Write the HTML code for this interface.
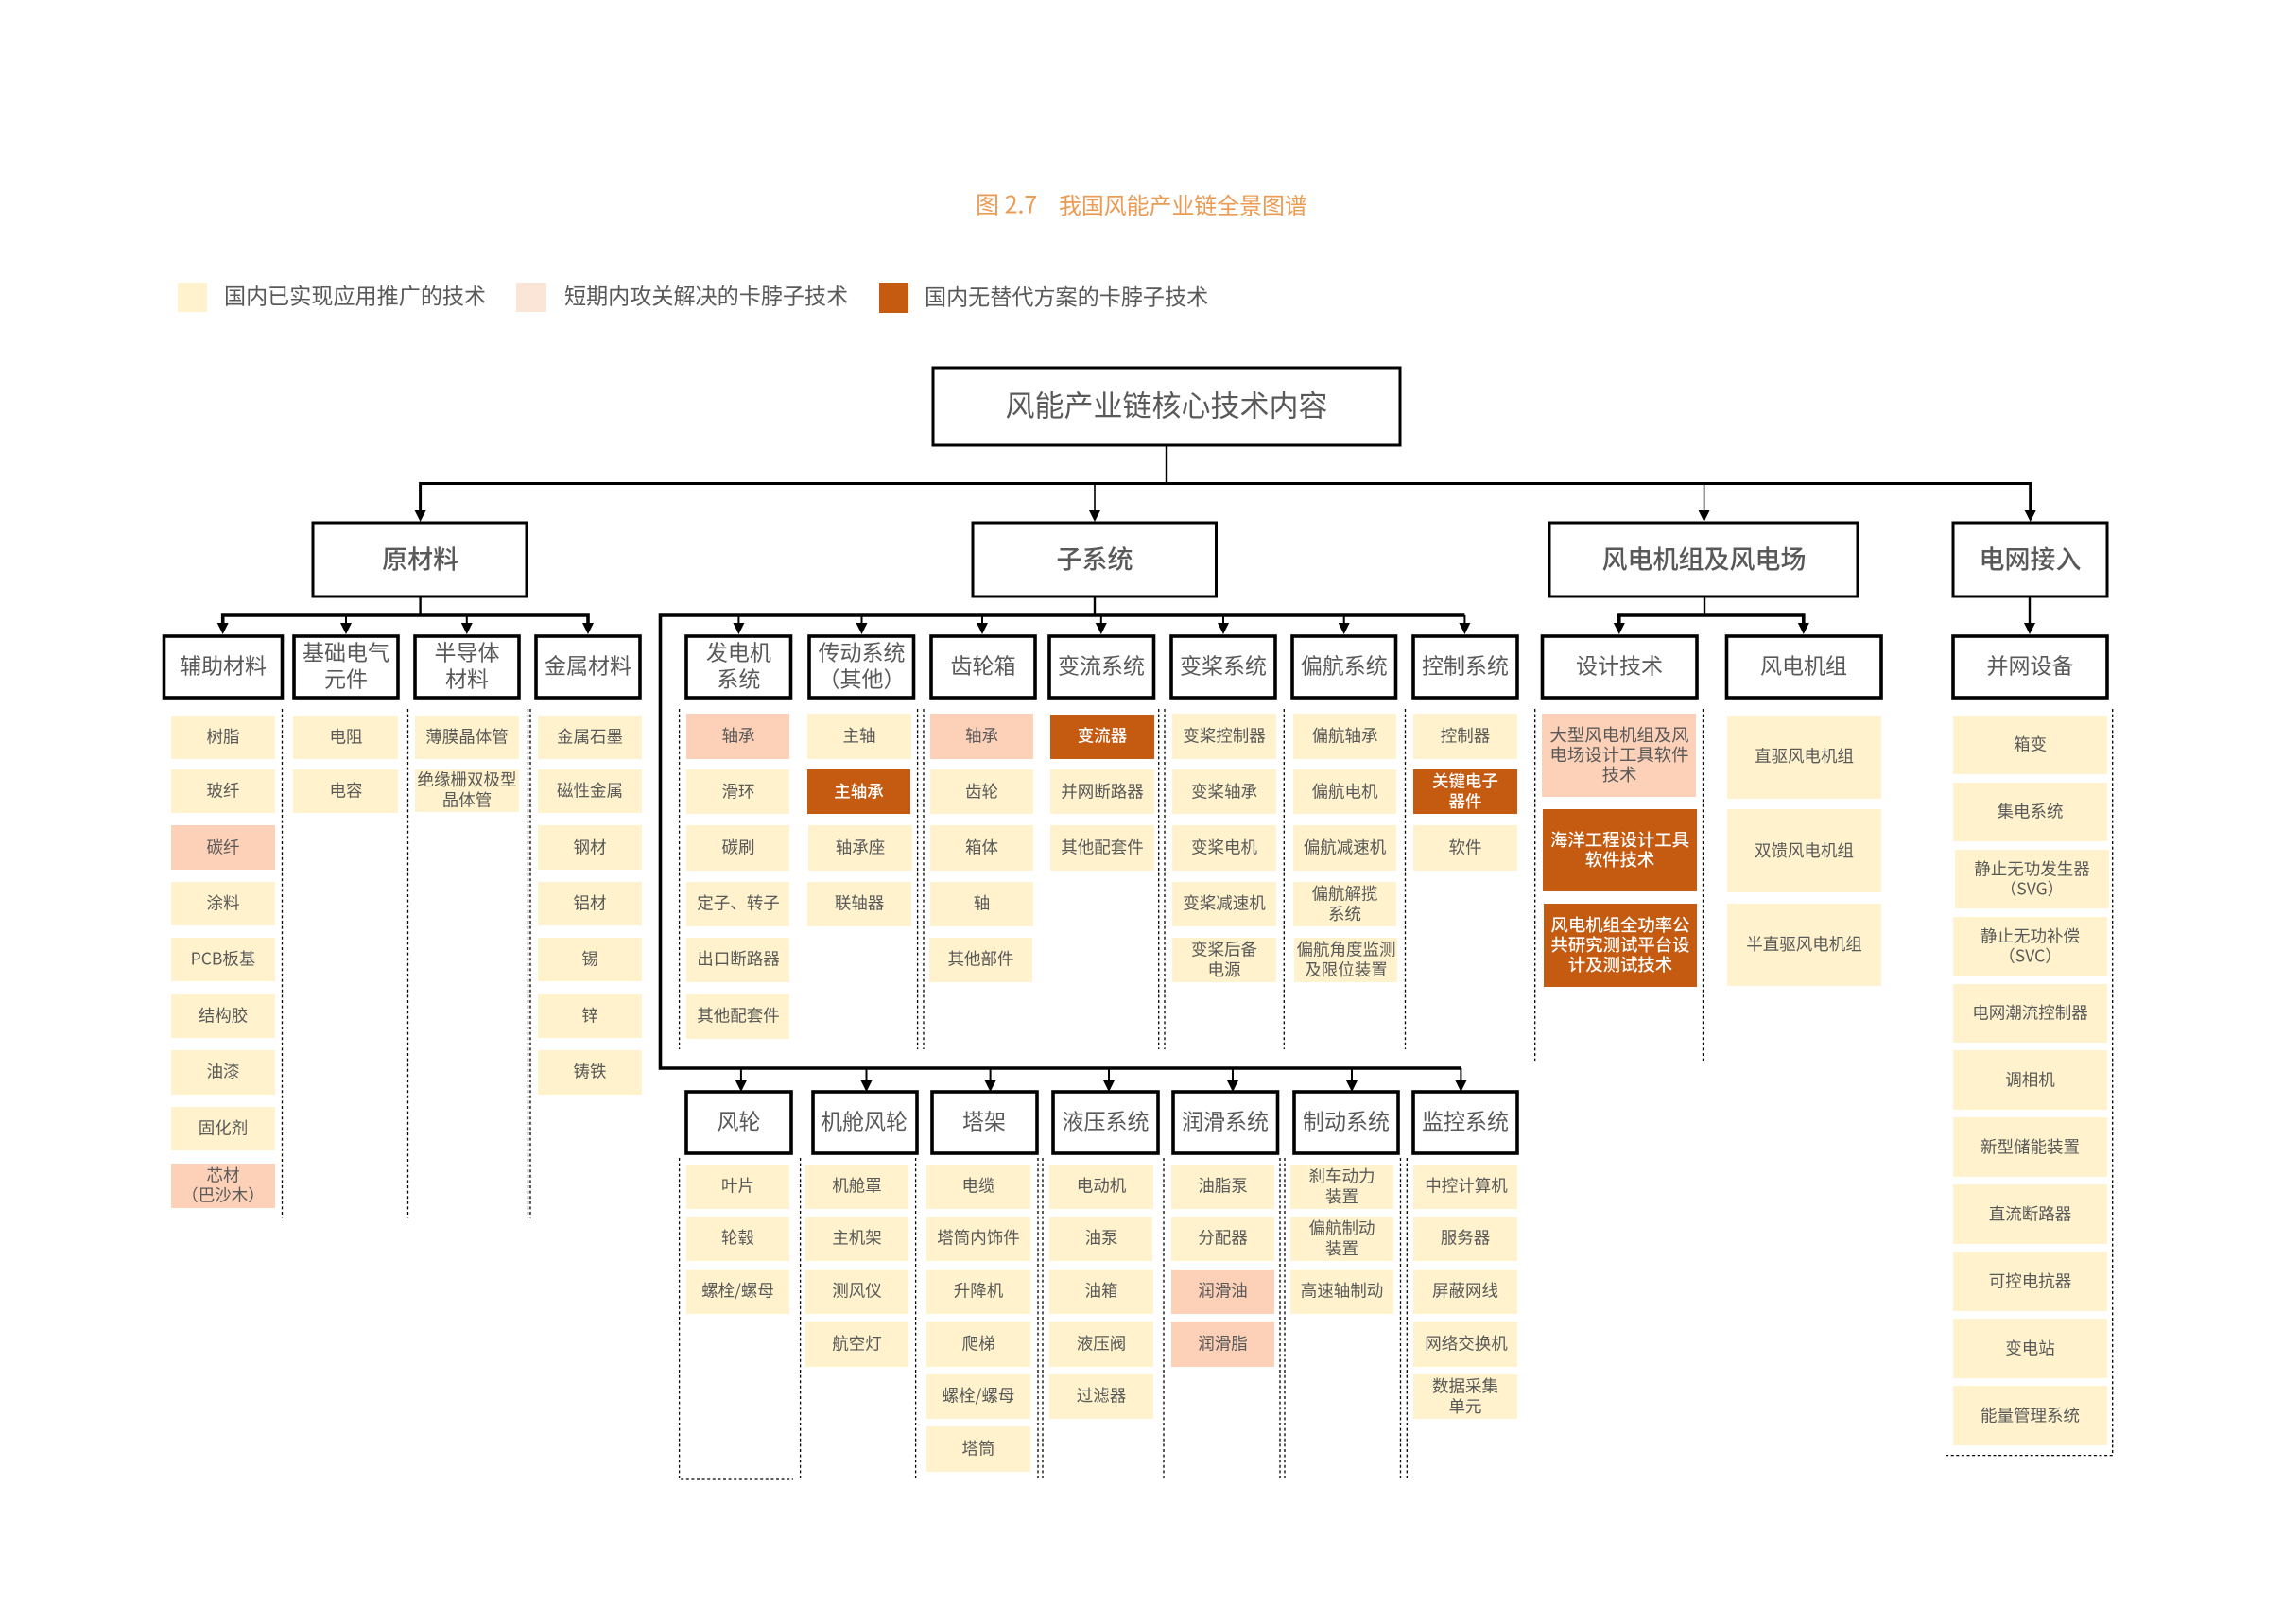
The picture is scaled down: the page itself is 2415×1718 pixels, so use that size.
<!DOCTYPE html>
<html lang="zh"><head><meta charset="utf-8"><title>我国风能产业链全景图谱</title>
<style>
html,body{margin:0;padding:0;background:#fff}
svg{display:block}
text{font-family:"Liberation Sans","Noto Sans CJK SC",sans-serif;fill:#595959;text-anchor:middle;dominant-baseline:central}
.cjk{font-family:"Noto Sans CJK SC",sans-serif}
.c{fill:#FFF2CC}.p{fill:#FDD1B8}.d{fill:#C55A11}
.b1{fill:#fff;stroke:#000;stroke-width:3}
.b2{fill:#fff;stroke:#000;stroke-width:3.6}
.l1{font-size:27px;font-weight:500;font-family:"Noto Sans CJK SC",sans-serif;transform:translateY(-2px)}
.l2{font-size:23px;font-family:"Noto Sans CJK SC",sans-serif;transform:translateY(-1.5px)}
.t{font-size:17.5px;font-family:"Noto Sans CJK SC",sans-serif}
.w{font-size:17.5px;font-weight:500;font-family:"Noto Sans CJK SC",sans-serif;fill:#fff}
.big{font-size:18.4px}
.lg{font-size:23.1px;font-family:"Noto Sans CJK SC",sans-serif;text-anchor:start;transform:translateY(-1.5px)}
.ln{stroke:#000;fill:none}
.dash{stroke:#000;stroke-width:1.3;stroke-dasharray:3 2.6;fill:none}
</style></head><body>
<svg xmlns="http://www.w3.org/2000/svg" width="2415" height="1718" viewBox="0 0 2415 1718">
<rect width="2415" height="1718" fill="#fff"/>

<!-- title -->
<text class="cjk" x="1032" y="215.5" style="font-size:25px;fill:#ED9A52;text-anchor:start">图 2.7</text>
<text class="cjk" x="1120" y="215.5" style="font-size:23.9px;fill:#ED9A52;text-anchor:start">我国风能产业链全景图谱</text>

<!-- legend -->
<rect x="188" y="299" width="31" height="31" fill="#FFF2CC"/>
<text class="lg" x="237" y="313">国内已实现应用推广的技术</text>
<rect x="546" y="299" width="32" height="31" fill="#FBE5D6"/>
<text class="lg" x="597" y="313">短期内攻关解决的卡脖子技术</text>
<rect x="930" y="299" width="31" height="32" fill="#C55A11"/>
<text class="lg" x="978" y="314">国内无替代方案的卡脖子技术</text>

<!-- connectors -->
<g class="ln">
<path stroke-width="2.4" d="M1234 471V512"/>
<path stroke-width="3" d="M444.6 541V511.5H2147.7V541"/>
<path stroke-width="1.6" d="M1158 512V541M1802.6 512V541"/>
<path stroke-width="2.4" d="M444.6 631V651M1158 631V651M1803 631V651M2147 631V661"/>
<path stroke-width="3.6" d="M235.7 661V651H622V661"/>
<path stroke-width="2" d="M366 651V661M493.8 651V661"/>
<path stroke-width="3.6" d="M1549.4 651H698.5V1130H1545.4"/>
<path stroke-width="2" d="M781.4 651V661M911.5 651V661M1039 651V661M1164.8 651V661M1294 651V661M1421.7 651V661M1549.4 651V661"/>
<path stroke-width="3.6" d="M1712.8 661V651H1907.8V661"/>
<path stroke-width="2" d="M783.9 1130V1143M916.5 1130V1143M1047.6 1130V1143M1173 1130V1143M1304 1130V1143M1430 1130V1143M1545.4 1130V1143"/>
</g>

<!-- arrowheads -->
<g fill="#000">
<polygon points="438.6,540 450.6,540 444.6,552"/>
<polygon points="1152,540 1164,540 1158,552"/>
<polygon points="1796.6,540 1808.6,540 1802.6,552"/>
<polygon points="2141.7,540 2153.7,540 2147.7,552"/>
<polygon points="229.7,659 241.7,659 235.7,671"/>
<polygon points="360,659 372,659 366,671"/>
<polygon points="487.8,659 499.8,659 493.8,671"/>
<polygon points="616,659 628,659 622,671"/>
<polygon points="775.4,659 787.4,659 781.4,671"/>
<polygon points="905.5,659 917.5,659 911.5,671"/>
<polygon points="1033,659 1045,659 1039,671"/>
<polygon points="1158.8,659 1170.8,659 1164.8,671"/>
<polygon points="1288,659 1300,659 1294,671"/>
<polygon points="1415.7,659 1427.7,659 1421.7,671"/>
<polygon points="1543.4,659 1555.4,659 1549.4,671"/>
<polygon points="1706.8,659 1718.8,659 1712.8,671"/>
<polygon points="1901.8,659 1913.8,659 1907.8,671"/>
<polygon points="2141,659 2153,659 2147,671"/>
<polygon points="777.9,1143 789.9,1143 783.9,1155"/>
<polygon points="910.5,1143 922.5,1143 916.5,1155"/>
<polygon points="1041.6,1143 1053.6,1143 1047.6,1155"/>
<polygon points="1167,1143 1179,1143 1173,1155"/>
<polygon points="1298,1143 1310,1143 1304,1155"/>
<polygon points="1424,1143 1436,1143 1430,1155"/>
<polygon points="1539.4,1143 1551.4,1143 1545.4,1155"/>
</g>

<!-- dashed separators -->
<g class="dash">
<path d="M298.5 750V1289M431.5 750V1289M558.5 750V1289M561 750V1289M718.6 750V1110"/>
<path d="M970.6 750V1110M977 750V1110M1225.7 750V1110M1232 750V1110M1358.3 750V1110M1486.5 750V1110"/>
<path d="M1623.7 750V1122M1801.5 750V1122"/>
<path d="M2234.7 750V1539.6H2059"/>
<path d="M718.6 1225V1565H839M846.6 1225V1564M968.6 1225V1564M1098 1225V1564M1103 1225V1564M1231 1225V1564M1354 1225V1564M1359 1225V1564M1481.5 1225V1564M1488.3 1225V1564"/>
</g>

<!-- top boxes -->
<rect class="b1" x="987" y="389" width="494" height="82"/>
<text class="cjk" x="1234" y="427" style="font-size:31px">风能产业链核心技术内容</text>
<rect class="b1" x="331" y="553" width="226" height="78"/>
<text class="l1" x="444.6" y="592">原材料</text>
<rect class="b1" x="1029" y="553" width="257.5" height="78"/>
<text class="l1" x="1158" y="592">子系统</text>
<rect class="b1" x="1639" y="553" width="326" height="78"/>
<text class="l1" x="1802.5" y="592">风电机组及风电场</text>
<rect class="b1" x="2066" y="553" width="163" height="78"/>
<text class="l1" x="2147.5" y="592">电网接入</text>

<!-- level 2 upper -->
<rect class="b2" x="173.5" y="673" width="125" height="65"/><text class="l2" x="236" y="704">辅助材料</text>
<rect class="b2" x="311" y="673" width="110" height="65"/><text class="l2" x="366" y="690">基础电气</text><text class="l2" x="366" y="718">元件</text>
<rect class="b2" x="439" y="673" width="110" height="65"/><text class="l2" x="494" y="690">半导体</text><text class="l2" x="494" y="718">材料</text>
<rect class="b2" x="567" y="673" width="110" height="65"/><text class="l2" x="622" y="704">金属材料</text>
<rect class="b2" x="726" y="673" width="110.5" height="65"/><text class="l2" x="781.4" y="690">发电机</text><text class="l2" x="781.4" y="718">系统</text>
<rect class="b2" x="856" y="673" width="110.5" height="65"/><text class="l2" x="911.5" y="690">传动系统</text><text class="l2" x="911.5" y="718">（其他）</text>
<rect class="b2" x="985" y="673" width="110" height="65"/><text class="l2" x="1040" y="704">齿轮箱</text>
<rect class="b2" x="1110" y="673" width="110.5" height="65"/><text class="l2" x="1165" y="704">变流系统</text>
<rect class="b2" x="1239" y="673" width="110" height="65"/><text class="l2" x="1294" y="704">变桨系统</text>
<rect class="b2" x="1367" y="673" width="109.5" height="65"/><text class="l2" x="1421.7" y="704">偏航系统</text>
<rect class="b2" x="1495" y="673" width="110" height="65"/><text class="l2" x="1550" y="704">控制系统</text>
<rect class="b2" x="1631.5" y="673" width="163.5" height="65"/><text class="l2" x="1713" y="704">设计技术</text>
<rect class="b2" x="1826.5" y="673" width="163.5" height="65"/><text class="l2" x="1908" y="704">风电机组</text>
<rect class="b2" x="2066" y="673" width="163" height="65"/><text class="l2" x="2147.5" y="704">并网设备</text>

<!-- level 2 lower -->
<rect class="b2" x="726" y="1155" width="111" height="65"/><text class="l2" x="781.5" y="1186">风轮</text>
<rect class="b2" x="860" y="1155" width="110" height="65"/><text class="l2" x="914" y="1186">机舱风轮</text>
<rect class="b2" x="986" y="1155" width="111" height="65"/><text class="l2" x="1041" y="1186">塔架</text>
<rect class="b2" x="1114" y="1155" width="111" height="65"/><text class="l2" x="1169.5" y="1186">液压系统</text>
<rect class="b2" x="1241" y="1155" width="110.5" height="65"/><text class="l2" x="1296" y="1186">润滑系统</text>
<rect class="b2" x="1369" y="1155" width="110" height="65"/><text class="l2" x="1424" y="1186">制动系统</text>
<rect class="b2" x="1495" y="1155" width="110" height="65"/><text class="l2" x="1550" y="1186">监控系统</text>

<!-- 辅助材料 -->
<rect class="c" x="181" y="757" width="110" height="46"/><text class="t" x="236" y="779">树脂</text>
<rect class="c" x="181" y="814" width="110" height="46"/><text class="t" x="236" y="836">玻纤</text>
<rect class="p" x="181" y="873" width="110" height="47"/><text class="t" x="236" y="896">碳纤</text>
<rect class="c" x="181" y="933" width="110" height="46"/><text class="t" x="236" y="955">涂料</text>
<rect class="c" x="181" y="992" width="110" height="46"/><text class="t" x="236" y="1014">PCB板基</text>
<rect class="c" x="181" y="1052" width="110" height="46"/><text class="t" x="236" y="1074">结构胶</text>
<rect class="c" x="181" y="1111" width="110" height="47"/><text class="t" x="236" y="1133">油漆</text>
<rect class="c" x="181" y="1171" width="110" height="46"/><text class="t" x="236" y="1193">固化剂</text>
<rect class="p" x="181" y="1231" width="110" height="47"/><text class="t" x="236" y="1243">芯材</text><text class="t" x="236" y="1264">（巴沙木）</text>
<!-- 基础电气 -->
<rect class="c" x="310" y="757" width="111" height="46"/><text class="t" x="366" y="779">电阻</text>
<rect class="c" x="310" y="814" width="111" height="46"/><text class="t" x="366" y="836">电容</text>
<!-- 半导体 -->
<rect class="c" x="439" y="757" width="110" height="46"/><text class="t" x="494" y="779">薄膜晶体管</text>
<rect class="c" x="439" y="814" width="110" height="45"/><text class="t" x="494" y="824.5">绝缘栅双极型</text><text class="t" x="494" y="846">晶体管</text>
<!-- 金属 -->
<rect class="c" x="569" y="757" width="110" height="46"/><text class="t" x="624" y="779">金属石墨</text>
<rect class="c" x="569" y="814" width="110" height="46"/><text class="t" x="624" y="836">磁性金属</text>
<rect class="c" x="569" y="873" width="110" height="47"/><text class="t" x="624" y="896">钢材</text>
<rect class="c" x="569" y="933" width="110" height="46"/><text class="t" x="624" y="955">铝材</text>
<rect class="c" x="569" y="992" width="110" height="46"/><text class="t" x="624" y="1014">锡</text>
<rect class="c" x="569" y="1052" width="110" height="46"/><text class="t" x="624" y="1074">锌</text>
<rect class="c" x="569" y="1111" width="110" height="47"/><text class="t" x="624" y="1133">铸铁</text>
<!-- 发电机 -->
<rect class="p" x="726" y="755" width="109" height="48"/><text class="t" x="781" y="778">轴承</text>
<rect class="c" x="726" y="814" width="109" height="47"/><text class="t" x="781" y="837">滑环</text>
<rect class="c" x="726" y="873" width="109" height="48"/><text class="t" x="781" y="896">碳刷</text>
<rect class="c" x="726" y="933" width="109" height="47"/><text class="t" x="781" y="955">定子、转子</text>
<rect class="c" x="726" y="992" width="109" height="47"/><text class="t" x="781" y="1014">出口断路器</text>
<rect class="c" x="726" y="1052" width="109" height="47"/><text class="t" x="781" y="1074">其他配套件</text>
<!-- 传动 -->
<rect class="c" x="854" y="755" width="110" height="48"/><text class="t" x="909" y="778">主轴</text>
<rect class="d" x="854" y="814" width="109" height="47"/><text class="w" x="908.5" y="837">主轴承</text>
<rect class="c" x="855" y="873" width="110" height="48"/><text class="t" x="910" y="896">轴承座</text>
<rect class="c" x="854" y="933" width="110" height="47"/><text class="t" x="909" y="955">联轴器</text>
<!-- 齿轮箱 -->
<rect class="p" x="984" y="755" width="109" height="48"/><text class="t" x="1038.5" y="778">轴承</text>
<rect class="c" x="984" y="814" width="109" height="47"/><text class="t" x="1038.5" y="837">齿轮</text>
<rect class="c" x="984" y="873" width="109" height="48"/><text class="t" x="1038.5" y="896">箱体</text>
<rect class="c" x="984" y="933" width="109" height="47"/><text class="t" x="1038.5" y="955">轴</text>
<rect class="c" x="983" y="992" width="109" height="47"/><text class="t" x="1037.5" y="1014">其他部件</text>
<!-- 变流 -->
<rect class="d" x="1111" y="756" width="110" height="47"/><text class="w" x="1166" y="778">变流器</text>
<rect class="c" x="1111" y="814" width="110" height="47"/><text class="t" x="1166" y="837">并网断路器</text>
<rect class="c" x="1111" y="873" width="110" height="48"/><text class="t" x="1166" y="896">其他配套件</text>
<!-- 变桨 -->
<rect class="c" x="1240" y="755" width="110" height="48"/><text class="t" x="1295" y="778">变桨控制器</text>
<rect class="c" x="1240" y="814" width="110" height="47"/><text class="t" x="1295" y="837">变桨轴承</text>
<rect class="c" x="1240" y="873" width="110" height="48"/><text class="t" x="1295" y="896">变桨电机</text>
<rect class="c" x="1240" y="933" width="110" height="47"/><text class="t" x="1295" y="955">变桨减速机</text>
<rect class="c" x="1240" y="992" width="110" height="47"/><text class="t" x="1295" y="1004">变桨后备</text><text class="t" x="1295" y="1025.5">电源</text>
<!-- 偏航 -->
<rect class="c" x="1368" y="755" width="109" height="48"/><text class="t" x="1422.5" y="778">偏航轴承</text>
<rect class="c" x="1368" y="814" width="109" height="47"/><text class="t" x="1422.5" y="837">偏航电机</text>
<rect class="c" x="1368" y="873" width="109" height="48"/><text class="t" x="1422.5" y="896">偏航减速机</text>
<rect class="c" x="1368" y="933" width="109" height="47"/><text class="t" x="1422.5" y="945">偏航解揽</text><text class="t" x="1422.5" y="966.5">系统</text>
<rect class="c" x="1369" y="992" width="109" height="47"/><text class="t" x="1424" y="1004">偏航角度监测</text><text class="t" x="1424" y="1025.5">及限位装置</text>
<!-- 控制 -->
<rect class="c" x="1495" y="755" width="110" height="48"/><text class="t" x="1550" y="778">控制器</text>
<rect class="d" x="1495" y="814" width="110" height="47"/><text class="w" x="1550" y="826">关键电子</text><text class="w" x="1550" y="847.5">器件</text>
<rect class="c" x="1495" y="873" width="110" height="48"/><text class="t" x="1550" y="896">软件</text>
<!-- 设计技术 -->
<rect class="p" x="1631" y="755" width="163" height="88"/><text class="t big" x="1713" y="777">大型风电机组及风</text><text class="t big" x="1713" y="798">电场设计工具软件</text><text class="t big" x="1713" y="819">技术</text>
<rect class="d" x="1632" y="856" width="163" height="87"/><text class="w big" x="1713.5" y="888">海洋工程设计工具</text><text class="w big" x="1713.5" y="909">软件技术</text>
<rect class="d" x="1633" y="956" width="162" height="88"/><text class="w big" x="1714" y="978">风电机组全功率公</text><text class="w big" x="1714" y="999">共研究测试平台设</text><text class="w big" x="1714" y="1020">计及测试技术</text>
<!-- 风电机组 -->
<rect class="c" x="1827" y="757" width="163" height="88"/><text class="t" x="1908.5" y="799.5">直驱风电机组</text>
<rect class="c" x="1827" y="856" width="163" height="88"/><text class="t" x="1908.5" y="899.5">双馈风电机组</text>
<rect class="c" x="1827" y="956" width="163" height="87"/><text class="t" x="1908.5" y="998.5">半直驱风电机组</text>
<!-- 并网设备 -->
<rect class="c" x="2066" y="757" width="163" height="62"/><text class="t" x="2147.5" y="787">箱变</text>
<rect class="c" x="2066" y="828" width="163" height="62"/><text class="t" x="2147.5" y="858">集电系统</text>
<rect class="c" x="2068" y="899" width="163" height="62"/><text class="t" x="2149.5" y="919">静止无功发生器</text><text class="t" x="2149.5" y="940">（SVG）</text>
<rect class="c" x="2066" y="970" width="163" height="62"/><text class="t" x="2147.5" y="990">静止无功补偿</text><text class="t" x="2147.5" y="1011">（SVC）</text>
<rect class="c" x="2066" y="1041" width="163" height="62"/><text class="t" x="2147.5" y="1071">电网潮流控制器</text>
<rect class="c" x="2066" y="1111" width="163" height="63"/><text class="t" x="2147.5" y="1142">调相机</text>
<rect class="c" x="2066" y="1182" width="163" height="63"/><text class="t" x="2147.5" y="1213">新型储能装置</text>
<rect class="c" x="2066" y="1253" width="163" height="63"/><text class="t" x="2147.5" y="1284">直流断路器</text>
<rect class="c" x="2066" y="1324" width="163" height="63"/><text class="t" x="2147.5" y="1355">可控电抗器</text>
<rect class="c" x="2066" y="1395" width="163" height="63"/><text class="t" x="2147.5" y="1426">变电站</text>
<rect class="c" x="2066" y="1466" width="163" height="63"/><text class="t" x="2147.5" y="1497">能量管理系统</text>

<!-- 风轮 -->
<rect class="c" x="726" y="1232" width="109" height="47"/><text class="t" x="780.5" y="1254">叶片</text>
<rect class="c" x="726" y="1287" width="109" height="47"/><text class="t" x="780.5" y="1309">轮毂</text>
<rect class="c" x="726" y="1343" width="109" height="47"/><text class="t" x="780.5" y="1365">螺栓/螺母</text>
<!-- 机舱 -->
<rect class="c" x="852" y="1232" width="109" height="47"/><text class="t" x="906.5" y="1254">机舱罩</text>
<rect class="c" x="852" y="1287" width="109" height="47"/><text class="t" x="906.5" y="1309">主机架</text>
<rect class="c" x="852" y="1343" width="109" height="47"/><text class="t" x="906.5" y="1365">测风仪</text>
<rect class="c" x="852" y="1398" width="109" height="48"/><text class="t" x="906.5" y="1421">航空灯</text>
<!-- 塔架 -->
<rect class="c" x="980" y="1232" width="110" height="47"/><text class="t" x="1035" y="1254">电缆</text>
<rect class="c" x="980" y="1287" width="110" height="47"/><text class="t" x="1035" y="1309">塔筒内饰件</text>
<rect class="c" x="980" y="1343" width="110" height="47"/><text class="t" x="1035" y="1365">升降机</text>
<rect class="c" x="980" y="1398" width="110" height="48"/><text class="t" x="1035" y="1421">爬梯</text>
<rect class="c" x="980" y="1454" width="110" height="47"/><text class="t" x="1035" y="1476">螺栓/螺母</text>
<rect class="c" x="980" y="1509" width="110" height="48"/><text class="t" x="1035" y="1532">塔筒</text>
<!-- 液压 -->
<rect class="c" x="1110" y="1232" width="110" height="47"/><text class="t" x="1165" y="1254">电动机</text>
<rect class="c" x="1110" y="1287" width="109" height="47"/><text class="t" x="1165" y="1309">油泵</text>
<rect class="c" x="1110" y="1343" width="110" height="47"/><text class="t" x="1165" y="1365">油箱</text>
<rect class="c" x="1110" y="1398" width="110" height="48"/><text class="t" x="1165" y="1421">液压阀</text>
<rect class="c" x="1110" y="1454" width="110" height="47"/><text class="t" x="1165" y="1476">过滤器</text>
<!-- 润滑 -->
<rect class="c" x="1239" y="1232" width="109" height="47"/><text class="t" x="1293.5" y="1254">油脂泵</text>
<rect class="c" x="1239" y="1287" width="109" height="47"/><text class="t" x="1293.5" y="1309">分配器</text>
<rect class="p" x="1239" y="1343" width="109" height="47"/><text class="t" x="1293.5" y="1365">润滑油</text>
<rect class="p" x="1239" y="1398" width="109" height="48"/><text class="t" x="1293.5" y="1421">润滑脂</text>
<!-- 制动 -->
<rect class="c" x="1365" y="1232" width="109" height="47"/><text class="t" x="1419.5" y="1244">刹车动力</text><text class="t" x="1419.5" y="1265.5">装置</text>
<rect class="c" x="1365" y="1287" width="109" height="47"/><text class="t" x="1419.5" y="1299">偏航制动</text><text class="t" x="1419.5" y="1320.5">装置</text>
<rect class="c" x="1365" y="1343" width="109" height="47"/><text class="t" x="1419.5" y="1365">高速轴制动</text>
<!-- 监控 -->
<rect class="c" x="1495" y="1232" width="110" height="47"/><text class="t" x="1551" y="1254">中控计算机</text>
<rect class="c" x="1495" y="1287" width="110" height="47"/><text class="t" x="1550" y="1309">服务器</text>
<rect class="c" x="1495" y="1343" width="110" height="47"/><text class="t" x="1550" y="1365">屏蔽网线</text>
<rect class="c" x="1495" y="1398" width="110" height="48"/><text class="t" x="1551" y="1421">网络交换机</text>
<rect class="c" x="1495" y="1454" width="110" height="47"/><text class="t" x="1550" y="1466">数据采集</text><text class="t" x="1550" y="1487.5">单元</text>
</svg>
</body></html>
